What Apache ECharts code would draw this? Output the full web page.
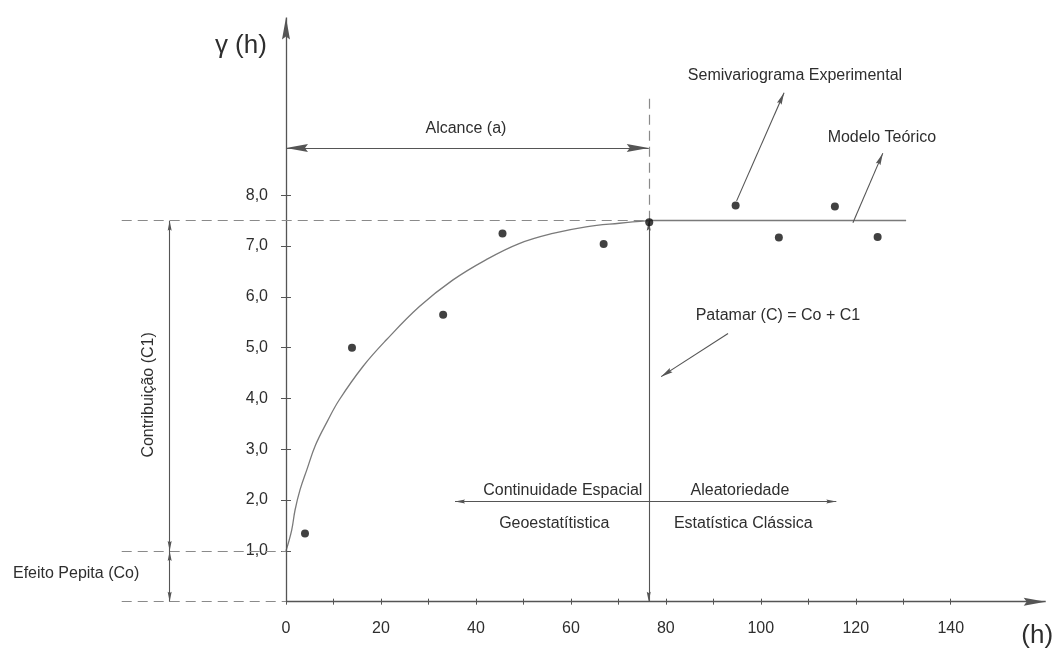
<!DOCTYPE html>
<html>
<head>
<meta charset="utf-8">
<script src="https://cdn.jsdelivr.net/npm/echarts@6/dist/echarts.min.js"></script>
<style>
html,body{margin:0;padding:0;background:#ffffff;}
#chart{width:1056px;height:648px;}
</style>
</head>
<body>
<div id="chart"></div>
<script>
// ---- data ----
const modelX = [0, 1.2, 1.9, 2.95, 4.4, 6.2, 8.7, 11.2, 16.2, 21.1, 28.1, 35.1, 42.1, 49.1, 56.2, 63.2, 70.2, 76.4];
const modelY = [1.0, 1.41, 1.8, 2.2, 2.6, 3.08, 3.55, 3.97, 4.63, 5.15, 5.81, 6.33, 6.73, 7.05, 7.25, 7.38, 7.45, 7.5];
const expX = [4.0, 13.9, 33.1, 45.6, 66.9, 76.5, 94.7, 103.8, 115.6, 124.6];
const expY = [1.34, 5.0, 5.65, 7.25, 7.04, 7.47, 7.8, 7.17, 7.78, 7.18];
const xTickValues = [0, 10, 20, 30, 40, 50, 60, 70, 80, 90, 100, 110, 120, 130, 140];
const xLabelValues = [0, 20, 40, 60, 80, 100, 120, 140];
const yTickValues = [1, 2, 3, 4, 5, 6, 7, 8];
const nugget = 1.0;      // Co
const sill = 7.5;        // C = Co + C1
const rangeA = 76.4;     // a
const sillLineEnd = 130.6;

// ---- styling / layout ----
const FONT = '"Liberation Sans", Arial, sans-serif';
const TXT = '#2e2e2e';
const AXIS = '#555555';
const ARROW = 'path://M5,0 L10,22 L5,19 L0,22 Z';
const tipOffset = [[0, '50%'], [0, '50%']];

const W = 1056, H = 648;
const GRID = { left: 1.1, right: 10.3, top: 17.5, bottom: 0.6 };
const xMin = -60, xMax = 160, yMin = -0.9, yMax = 11.5;
const leftExt = -34.6, dimX = -24.5;

// place the axes through the origin (labels stay with the axis)
const gw = W - GRID.left - GRID.right;
const gh = H - GRID.top - GRID.bottom;
const yAxisOffset = -((0 - xMin) / (xMax - xMin)) * gw;
const xAxisOffset = -((0 - yMin) / (yMax - yMin)) * gh;

function seg(a, b) { return [{ coord: a }, { coord: b }]; }
function carrier(markLine) {
  return { type: 'line', data: [], silent: true, markLine: markLine };
}
function ml(opts) {
  return Object.assign({
    silent: true, animation: false,
    label: { show: false },
    emphasis: { disabled: true },
    symbolOffset: tipOffset
  }, opts);
}

const texts = [
  { t: 'γ (h)', c: [-9.5, 10.94], fs: 26 },
  { t: 'Alcance (a)', c: [37.9, 9.32] },
  { t: 'Semivariograma Experimental', c: [107.2, 10.35] },
  { t: 'Modelo Teórico', c: [125.5, 9.13] },
  { t: 'Patamar (C) = Co + C1', c: [103.6, 5.64] },
  { t: 'Continuidade Espacial', c: [58.3, 2.18] },
  { t: 'Aleatoriedade', c: [95.6, 2.18] },
  { t: 'Geoestatítistica', c: [56.5, 1.54] },
  { t: 'Estatística Clássica', c: [96.3, 1.53] },
  { t: 'Efeito Pepita (Co)', c: [-44.2, 0.55] },
  { t: 'Contribuição (C1)', c: [-29.0, 4.07], rot: 90 },
  { t: '(h)', c: [158.2, -0.68], fs: 26 }
];

const chart = echarts.init(document.getElementById('chart'), null, { renderer: 'canvas' });

const tickLine = { color: AXIS, width: 1 };

const option = {
  backgroundColor: '#ffffff',
  animation: false,
  grid: Object.assign({ outerBoundsMode: 'none', containLabel: false }, GRID),
  xAxis: [
    {
      type: 'value', min: xMin, max: xMax, position: 'bottom', offset: xAxisOffset,
      axisLine: { show: false, onZero: false },
      axisTick: { show: true, customValues: xTickValues, length: 3, lineStyle: tickLine },
      axisLabel: { customValues: xLabelValues, margin: 19, fontSize: 16, color: TXT, fontFamily: FONT },
      splitLine: { show: false }
    },
    {
      type: 'value', min: xMin, max: xMax, position: 'bottom', offset: xAxisOffset,
      axisLine: { show: false, onZero: false },
      axisTick: { show: true, inside: true, customValues: xTickValues, length: 3, lineStyle: tickLine },
      axisLabel: { show: false },
      splitLine: { show: false }
    }
  ],
  yAxis: [
    {
      type: 'value', min: yMin, max: yMax, position: 'left', offset: yAxisOffset,
      axisLine: { show: false, onZero: false },
      axisTick: { show: true, customValues: yTickValues, length: 5, lineStyle: tickLine },
      axisLabel: {
        customValues: yTickValues, margin: 18, fontSize: 16, color: TXT, fontFamily: FONT,
        padding: [0, 0, 10, 0],
        formatter: v => v.toFixed(1).replace('.', ',')
      },
      splitLine: { show: false }
    },
    {
      type: 'value', min: yMin, max: yMax, position: 'left', offset: yAxisOffset,
      axisLine: { show: false, onZero: false },
      axisTick: { show: true, inside: true, customValues: yTickValues, length: 5, lineStyle: tickLine },
      axisLabel: { show: false },
      splitLine: { show: false }
    }
  ],
  series: [
    // theoretical model curve + sill
    {
      name: 'Modelo Teórico', type: 'line', silent: true,
      data: modelX.map((x, i) => [x, modelY[i]]),
      smooth: 0.4, showSymbol: false, symbol: 'none',
      lineStyle: { color: '#7a7a7a', width: 1.3 },
      markLine: ml({
        symbol: ['none', 'none'],
        lineStyle: { color: '#7a7a7a', width: 1.3, type: 'solid' },
        data: [seg([rangeA, sill], [sillLineEnd, sill])]
      }),
      z: 3
    },
    // experimental semivariogram
    {
      name: 'Semivariograma Experimental', type: 'scatter', silent: true,
      data: expX.map((x, i) => [x, expY[i]]),
      symbolSize: 8, itemStyle: { color: '#111111' }, z: 5
    },
    // axes with arrows
    carrier(ml({
      symbol: ['none', ARROW], symbolSize: [8, 22],
      lineStyle: { color: AXIS, width: 1.3, type: 'solid' },
      itemStyle: { color: '#333' },
      data: [seg([0, 0], [xMax, 0]), seg([0, 0], [0, yMax])]
    })),
    // dashed reference lines
    carrier(ml({
      symbol: ['none', 'none'],
      lineStyle: { color: '#8a8a8a', width: 1.2, type: [10, 6] },
      data: [
        seg([leftExt, sill], [rangeA, sill]),
        seg([leftExt, nugget], [0, nugget]),
        seg([leftExt, 0], [0, 0]),
        seg([rangeA, sill], [rangeA, 9.94])
      ]
    })),
    // Alcance (a) arrow
    carrier(ml({
      symbol: [ARROW, ARROW], symbolSize: [8, 22],
      lineStyle: { color: '#555', width: 1.2, type: 'solid' },
      itemStyle: { color: '#333' },
      data: [seg([0, 8.93], [rangeA, 8.93])]
    })),
    // small dimension arrows
    carrier(ml({
      symbol: [ARROW, ARROW], symbolSize: [4, 10],
      lineStyle: { color: '#555', width: 1.1, type: 'solid' },
      itemStyle: { color: '#333' },
      data: [
        seg([dimX, nugget], [dimX, sill]),
        seg([dimX, 0], [dimX, nugget]),
        seg([rangeA, 0], [rangeA, sill]),
        seg([35.6, 1.97], [115.9, 1.97])
      ]
    })),
    // pointer arrows
    carrier(ml({
      symbol: ['none', ARROW], symbolSize: [5, 12],
      lineStyle: { color: '#555', width: 1.1, type: 'solid' },
      itemStyle: { color: '#333' },
      data: [
        seg([94.9, 7.89], [104.9, 10.02]),
        seg([119.4, 7.46], [125.7, 8.83]),
        seg([93.1, 5.28], [79.0, 4.43])
      ]
    })),
    // text annotations
    {
      type: 'scatter', data: [], silent: true,
      markPoint: {
        silent: true, animation: false, symbol: 'circle', symbolSize: 0,
        itemStyle: { color: 'rgba(0,0,0,0)' },
        data: texts.map(o => ({
          coord: o.c, value: o.t,
          label: {
            show: true, position: 'inside', formatter: o.t,
            fontSize: o.fs || 16, color: TXT, fontFamily: FONT,
            rotate: o.rot || 0
          }
        }))
      }
    }
  ]
};

chart.setOption(option);
</script>
</body>
</html>
